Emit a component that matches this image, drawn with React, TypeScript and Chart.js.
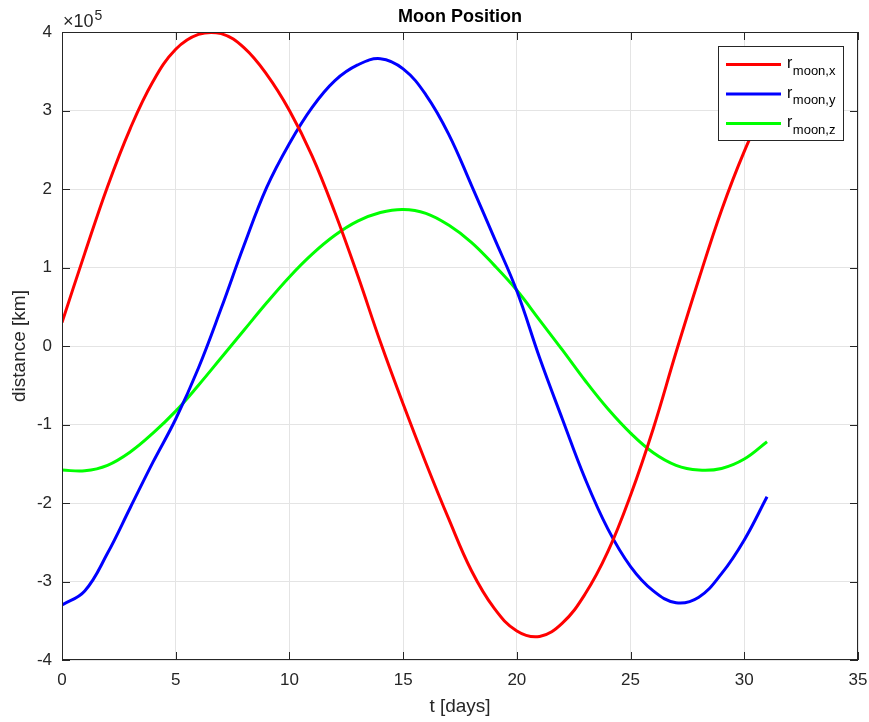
import React, { useEffect, useRef } from "react";
import { Chart, registerables } from "chart.js";

Chart.register(...registerables);

// Time axis in days
const days = [
  0, 1, 2, 3, 4, 5, 6, 7, 8, 9, 10, 11, 12, 13, 14, 15,
  16, 17, 18, 19, 20, 21, 22, 23, 24, 25, 26, 27, 28, 29, 30, 31,
];

// Moon position components in km
const rMoonX = [
  30000, 118000, 203000, 277000, 337000, 378000, 397000, 398000,
  380000, 346000, 300000, 242000, 170000, 90000, 5000, -74000,
  -149000, -220000, -286000, -334000, -363000, -370000, -353000, -316000,
  -262000, -190000, -105000, -8000, 85000, 173000, 248000, 310000,
];
const rMoonY = [
  -330000, -312000, -264000, -206000, -148000, -93000, -28000, 48000,
  128000, 202000, 258000, 304000, 338000, 358000, 366000, 353000,
  320000, 270000, 205000, 138000, 70000, -15000, -93000, -169000,
  -233000, -281000, -312000, -327000, -320000, -290000, -247000, -192000,
];
const rMoonZ = [
  -158000, -159000, -152000, -135000, -111000, -83000, -50000, -15000,
  20000, 55000, 88000, 117000, 141000, 159000, 170000, 174000,
  169000, 154000, 132000, 103000, 71000, 33000, -5000, -44000,
  -80000, -111000, -136000, -152000, -158000, -156000, -144000, -122000,
];

const seriesNames = ["moon,x", "moon,y", "moon,z"];
const seriesColors = ["#ff0000", "#0000ff", "#00ff00"];

const xTicks = [0, 5, 10, 15, 20, 25, 30, 35];
const yTicks = [-400000, -300000, -200000, -100000, 0, 100000, 200000, 300000, 400000];

const FONT = "'Liberation Sans', Arial, Helvetica, sans-serif";
const AXIS_COLOR = "#262626";

const framePlugin = {
  id: "matlabFrame",
  afterDatasetsDraw(chart: any) {
    const { ctx, chartArea: a, scales } = chart;
    const xs = scales.x;
    const ys = scales.y;
    ctx.save();
    ctx.strokeStyle = AXIS_COLOR;
    ctx.lineWidth = 1;
    ctx.strokeRect(a.left + 0.5, a.top + 0.5, a.right - a.left - 1, a.bottom - a.top - 1);
    const tl = 8;
    ctx.beginPath();
    for (const v of xTicks) {
      const px = Math.round(xs.getPixelForValue(v)) + 0.5;
      ctx.moveTo(px, a.bottom);
      ctx.lineTo(px, a.bottom - tl);
      ctx.moveTo(px, a.top);
      ctx.lineTo(px, a.top + tl);
    }
    for (const v of yTicks) {
      const py = Math.round(ys.getPixelForValue(v)) + 0.5;
      ctx.moveTo(a.left, py);
      ctx.lineTo(a.left + tl, py);
      ctx.moveTo(a.right, py);
      ctx.lineTo(a.right - tl, py);
    }
    ctx.stroke();
    ctx.restore();
  },
  afterDraw(chart: any) {
    const { ctx, chartArea: a } = chart;
    ctx.save();
    ctx.fillStyle = "#000000";
    // Title
    ctx.font = `bold 18px ${FONT}`;
    ctx.textAlign = "center";
    ctx.textBaseline = "middle";
    ctx.fillText("Moon Position", (a.left + a.right) / 2, 17);

    ctx.fillStyle = AXIS_COLOR;
    // Axis labels
    ctx.font = `19px ${FONT}`;
    ctx.fillText("t [days]", (a.left + a.right) / 2, 707);
    ctx.save();
    ctx.translate(20, (a.top + a.bottom) / 2);
    ctx.rotate(-Math.PI / 2);
    ctx.fillText("distance [km]", 0, 0);
    ctx.restore();

    // Exponent marker
    ctx.textAlign = "left";
    ctx.textBaseline = "alphabetic";
    ctx.font = `18px ${FONT}`;
    ctx.fillText("\u00d710", a.left + 1, 27);
    const w = ctx.measureText("\u00d710").width;
    ctx.font = `14px ${FONT}`;
    ctx.fillText("5", a.left + 1 + w + 1, 20);

    // Legend
    const lx = 718.5;
    const ly = 46.5;
    const lw = 125;
    const lh = 94;
    ctx.fillStyle = "#ffffff";
    ctx.fillRect(lx, ly, lw, lh);
    ctx.strokeStyle = AXIS_COLOR;
    ctx.lineWidth = 1;
    ctx.strokeRect(lx, ly, lw, lh);
    chart.data.datasets.forEach((ds: any, i: number) => {
      const y = 64.5 + i * 29.5;
      ctx.strokeStyle = ds.borderColor;
      ctx.lineWidth = 3;
      ctx.beginPath();
      ctx.moveTo(726, y);
      ctx.lineTo(781, y);
      ctx.stroke();
      ctx.fillStyle = "#000000";
      ctx.font = `16px ${FONT}`;
      ctx.fillText("r", 787, y + 3.5);
      const rw = ctx.measureText("r").width;
      ctx.font = `13px ${FONT}`;
      ctx.fillText(seriesNames[i], 787 + rw + 0.5, y + 10);
    });
    ctx.restore();
  },
};

export default function App() {
  const canvasRef = useRef<HTMLCanvasElement | null>(null);

  useEffect(() => {
    const canvas = canvasRef.current;
    if (!canvas) return;
    const series = [rMoonX, rMoonY, rMoonZ];
    const chart = new Chart(canvas, {
      type: "line",
      data: {
        datasets: series.map((vals, i) => ({
          label: "r_" + seriesNames[i],
          data: days.map((t, k) => ({ x: t, y: vals[k] })),
          borderColor: seriesColors[i],
          backgroundColor: seriesColors[i],
          borderWidth: 3,
          pointRadius: 0,
          fill: false,
          tension: 0.4,
        })),
      },
      options: {
        responsive: false,
        animation: false,
        events: [],
        layout: { padding: { top: 32, right: 11, left: 0, bottom: 0 } },
        plugins: {
          legend: { display: false },
          title: { display: false },
          tooltip: { enabled: false },
        },
        scales: {
          x: {
            type: "linear",
            min: 0,
            max: 35,
            afterFit: (s: any) => {
              s.height = 62;
              s.paddingLeft = 0;
              s.paddingRight = 0;
            },
            afterBuildTicks: (s: any) => {
              s.ticks = xTicks.map((v) => ({ value: v }));
            },
            ticks: {
              color: AXIS_COLOR,
              font: { family: FONT, size: 17 },
              padding: 10,
              maxRotation: 0,
            },
            grid: { color: "#e4e4e4", drawTicks: false, lineWidth: 1 },
            border: { display: false },
          },
          y: {
            type: "linear",
            min: -400000,
            max: 400000,
            afterFit: (s: any) => {
              s.width = 62;
              s.paddingTop = 0;
              s.paddingBottom = 0;
            },
            afterBuildTicks: (s: any) => {
              s.ticks = yTicks.map((v) => ({ value: v }));
            },
            ticks: {
              color: AXIS_COLOR,
              font: { family: FONT, size: 17 },
              padding: 10,
              callback: (v: any) => String(Number(v) / 100000),
            },
            grid: { color: "#e4e4e4", drawTicks: false, lineWidth: 1 },
            border: { display: false },
          },
        },
      },
      plugins: [framePlugin],
    });
    return () => chart.destroy();
  }, []);

  return (
    <div style={{ position: "fixed", left: 0, top: 0, width: 869, height: 722, background: "#ffffff" }}>
      <canvas ref={canvasRef} width={869} height={722} style={{ width: 869, height: 722 }} />
    </div>
  );
}
